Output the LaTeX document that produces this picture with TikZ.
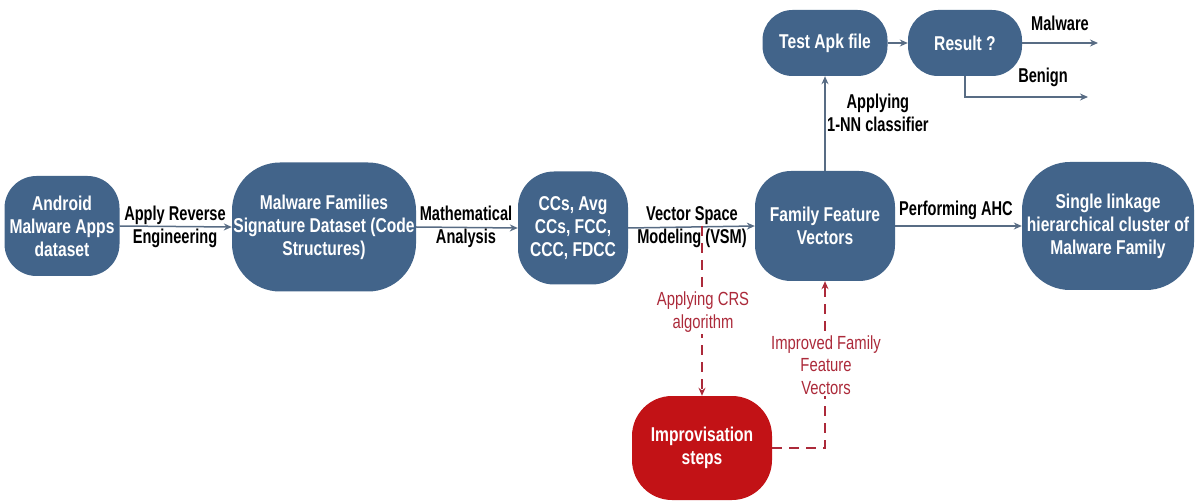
\documentclass[tikz,border=0pt]{standalone}
\usepackage{fontspec}
\setmainfont{Liberation Sans}[FakeStretch=0.78]
\newfontfamily\boxfont{Liberation Sans}[FakeStretch=0.78]
\newfontfamily\lblfont{Liberation Sans}[FakeStretch=0.73]
\newfontfamily\redfont{Liberation Sans}[FakeStretch=0.78]
\usetikzlibrary{arrows.meta}
\definecolor{nodeblue}{RGB}{66,100,138}
\definecolor{nodered}{RGB}{194,18,22}
\definecolor{linegray}{RGB}{88,108,132}
\definecolor{dashred}{RGB}{172,42,58}
\begin{document}
\begin{tikzpicture}[x=1pt,y=-1pt,
  blk/.style={fill=nodeblue, text=white, font=\boxfont\bfseries\fontsize{20}{23}\selectfont, align=center, inner sep=0pt},
  redblk/.style={blk, fill=nodered},
  conn/.style={draw=linegray, line width=1.5pt, -{Stealth[length=8pt,width=7pt]}},
  dconn/.style={draw=dashred, line width=1.3pt, dash pattern=on 10pt off 7pt, -{Stealth[length=8pt,width=7pt]}},
  lbl/.style={font=\lblfont\bfseries\fontsize{20}{23}\selectfont, align=center, text=black, inner sep=0pt},
  rlbl/.style={font=\redfont\fontsize{19}{22.5}\selectfont, align=center, text=dashred, fill=white, inner sep=2pt}]
\useasboundingbox (0,0) rectangle (1198,502);
% nodes
\node[blk, minimum width=115pt, minimum height=100pt, rounded corners=32pt] (android) at (62,226) {Android\\Malware Apps\\dataset};
\node[blk, minimum width=184pt, minimum height=129pt, rounded corners=48pt] (mf) at (324,227) {Malware Families\\Signature Dataset (Code\\Structures)};
\node[blk, minimum width=110pt, minimum height=113pt, rounded corners=36pt] (ccs) at (573,228) {CCs, Avg\\CCs, FCC,\\CCC, FDCC};
\node[blk, minimum width=140pt, minimum height=110pt, rounded corners=36pt] (ffv) at (825,226) {Family Feature\\Vectors};
\node[blk, minimum width=172pt, minimum height=128pt, rounded corners=48pt] (sl) at (1108,226) {Single linkage\\hierarchical cluster of\\Malware Family};
\node[blk, minimum width=125pt, minimum height=66pt, rounded corners=30pt] (test) at (825,43) {Test Apk file};
\node[blk, minimum width=114pt, minimum height=66pt, rounded corners=30pt] (res) at (965,43) {Result ?};
\node[redblk, minimum width=140pt, minimum height=104pt, rounded corners=40pt] (imp) at (702,448) {Improvisation\\steps};
% main flow
\draw[conn] (android.east) -- (mf.west);
\node[lbl] (l1) at (175,227) {Apply Reverse\\Engineering};
\draw[conn] (mf.east) -- (ccs.west);
\node[lbl] (l2) at (466,227) {Mathematical\\Analysis};
\draw[conn] (ccs.east) -- (ffv.west);
\node[lbl] (l3) at (692,227) {Vector Space\\Modeling (VSM)};
\draw[conn] (ffv.east) -- (sl.west);
\node[lbl] (l4) at (956,210) {Performing AHC};
% test branch
\draw[conn] (ffv.north) -- (test.south);
\node[lbl, anchor=west] (l5) at (827,113) {Applying\\1-NN classifier};
\draw[conn] (test.east) -- (res.west);
\coordinate (mal) at (1098,43);
\coordinate (ben) at (1088,97);
\draw[conn] (res.east) -- (mal);
\node[lbl] (l6) at (1060,23) {Malware};
\draw[conn] (res.south) |- (ben);
\node[lbl] (l7) at (1043,77) {Benign};
% improvisation loop
\coordinate (crs) at (702,226);
\draw[dconn] (crs) -- (imp.north);
\node[rlbl] (l8) at (703,312) {Applying CRS\\algorithm};
\draw[dconn] (imp.east) -| (ffv.south);
\node[rlbl] (l9) at (826,365) {Improved Family\\Feature\\Vectors};
\end{tikzpicture}
\end{document}
